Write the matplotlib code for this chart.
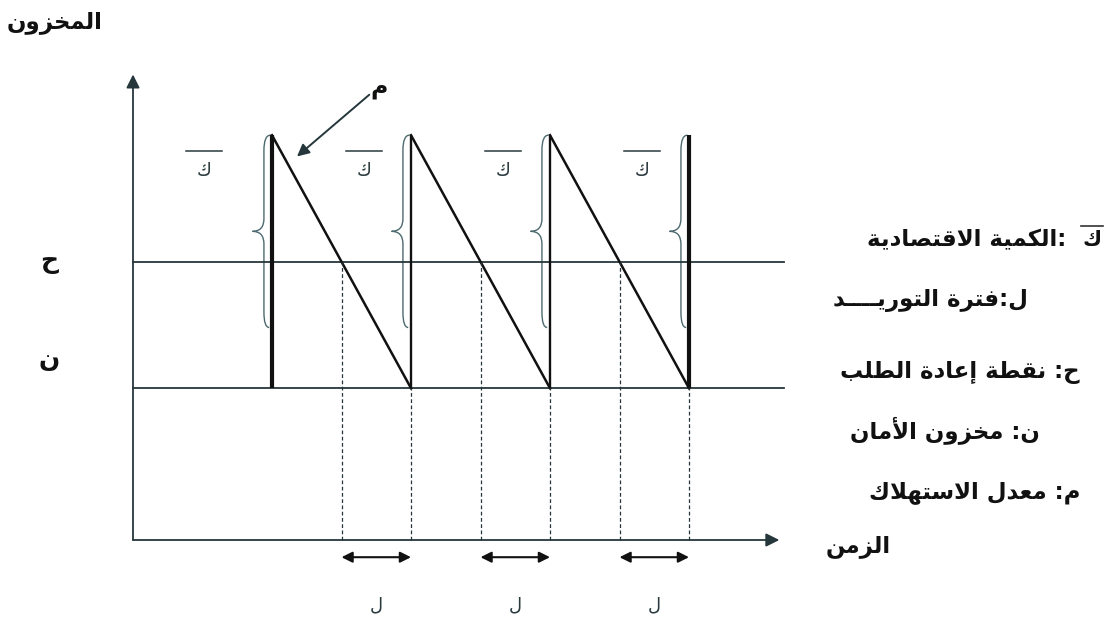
import matplotlib
matplotlib.use('Agg')
import matplotlib.pyplot as plt
from matplotlib.path import Path
from matplotlib.patches import PathPatch

# ---------------------------------------------------------------
# values (time in cycles, stock in units)
# ---------------------------------------------------------------
order_times = [1, 2, 3, 4]        # instants where the order arrives
reorder_times = [1.5, 2.5, 3.5]   # stock reaches the reorder point
safety_stock = 3.0                # ن
reorder_point = 5.5               # ح
max_stock = 8.0                   # ن + ك
brace_low = 4.2                   # lower end of the drawn braces
time_end = 4.65
stock_end = 9.2
hline_end = 4.68

side_labels = ['ح', 'ن']
side_levels = [5.5, 3.55]
lead_label = 'ل'
qty_label = 'ك'
rate_label = 'م'
title_y = 'المخزون'
title_x = 'الزمن'
legend_lines = [':الكمية الاقتصادية',
                'ل:فترة التوريــــد',
                'ح: نقطة إعادة الطلب',
                'ن: مخزون الأمان',
                'م: معدل الاستهلاك']

# ---------------------------------------------------------------
# tiny arabic shaper (presentation forms + right-to-left order)
# ---------------------------------------------------------------
FORMS = {'ء': (0xFE80, 1), 'آ': (0xFE81, 2), 'أ': (0xFE83, 2), 'ؤ': (0xFE85, 2),
         'إ': (0xFE87, 2), 'ئ': (0xFE89, 4), 'ا': (0xFE8D, 2), 'ب': (0xFE8F, 4),
         'ة': (0xFE93, 2), 'ت': (0xFE95, 4), 'ث': (0xFE99, 4), 'ج': (0xFE9D, 4),
         'ح': (0xFEA1, 4), 'خ': (0xFEA5, 4), 'د': (0xFEA9, 2), 'ذ': (0xFEAB, 2),
         'ر': (0xFEAD, 2), 'ز': (0xFEAF, 2), 'س': (0xFEB1, 4), 'ش': (0xFEB5, 4),
         'ص': (0xFEB9, 4), 'ض': (0xFEBD, 4), 'ط': (0xFEC1, 4), 'ظ': (0xFEC5, 4),
         'ع': (0xFEC9, 4), 'غ': (0xFECD, 4), 'ف': (0xFED1, 4), 'ق': (0xFED5, 4),
         'ك': (0xFED9, 4), 'ل': (0xFEDD, 4), 'م': (0xFEE1, 4), 'ن': (0xFEE5, 4),
         'ه': (0xFEE9, 4), 'و': (0xFEED, 2), 'ى': (0xFEEF, 2), 'ي': (0xFEF1, 4)}
LAM_ALEF = {'آ': 0xFEF5, 'أ': 0xFEF7, 'إ': 0xFEF9, 'ا': 0xFEFB}
TATWEEL = '\u0640'


def joins_next(c):
    return c == TATWEEL or (c in FORMS and FORMS[c][1] == 4)


def joins_prev(c):
    return c in ('LA', TATWEEL) or (c in FORMS and FORMS[c][1] >= 2)


def ar(s):
    units = []
    i = 0
    while i < len(s):
        if s[i] == 'ل' and i + 1 < len(s) and s[i + 1] in LAM_ALEF:
            units.append(('LA', s[i + 1]))
            i += 2
        else:
            units.append((s[i], None))
            i += 1
    out = []
    for k, (c, alef) in enumerate(units):
        before = k > 0 and joins_next(units[k - 1][0]) and joins_prev(c)
        after = k + 1 < len(units) and joins_next(c) and joins_prev(units[k + 1][0])
        if c == 'LA':
            out.append(chr(LAM_ALEF[alef] + int(before)))
        elif c in FORMS:
            base, n = FORMS[c]
            if n == 4:
                idx = [[0, 2], [1, 3]][int(before)][int(after)]
            elif n == 2:
                idx = int(before)
            else:
                idx = 0
            out.append(chr(base + idx))
        else:
            out.append(c)
    return ''.join(reversed(out))


# ---------------------------------------------------------------
# figure: one axes over the whole canvas, data units = time/stock
# ---------------------------------------------------------------
W, H = 1116, 622
X0, PX_T = 133, 139.0     # pixel of t=0, pixels per cycle
Y0, PX_V = 540, 50.6      # pixel of stock=0, pixels per unit

plt.rcParams['font.family'] = ['DejaVu Sans']
fig = plt.figure(figsize=(W / 100, H / 100), dpi=100)
ax = fig.add_axes([0, 0, 1, 1])
ax.set_xlim(-X0 / PX_T, (W - X0) / PX_T)
ax.set_ylim(-(H - Y0) / PX_V, Y0 / PX_V)
ax.axis('off')

line_col = '#25373b'
ink = '#111111'


def fx(px):
    return px / W


def fy(py):
    return 1 - py / H


# axes with arrows
ax.annotate('', xy=(0, stock_end), xytext=(0, 0),
            arrowprops=dict(arrowstyle='-|>', color=line_col, lw=1.3,
                            mutation_scale=20, shrinkA=0, shrinkB=0))
ax.annotate('', xy=(time_end, 0), xytext=(0, 0),
            arrowprops=dict(arrowstyle='-|>', color=line_col, lw=1.3,
                            mutation_scale=20, shrinkA=0, shrinkB=0))

# reorder point and safety stock levels
ax.plot([0, hline_end], [reorder_point, reorder_point], color=line_col, lw=1.3)
ax.plot([0, hline_end], [safety_stock, safety_stock], color=line_col, lw=1.3)

# saw-tooth: replenishments and consumption
for i, t in enumerate(order_times):
    thick = 3.0 if i in (0, len(order_times) - 1) else 1.7
    ax.plot([t, t], [safety_stock, max_stock], color=ink, lw=thick,
            solid_capstyle='butt')
    if i + 1 < len(order_times):
        ax.plot([t, order_times[i + 1]], [max_stock, safety_stock],
                color=ink, lw=1.8)

# dashed drops to the time axis
for t in reorder_times:
    ax.plot([t, t], [0, reorder_point], color=line_col, lw=0.9,
            ls=(0, (3, 2)))
for t in order_times[1:]:
    ax.plot([t, t], [0, safety_stock], color=line_col, lw=0.9,
            ls=(0, (3, 2)))

# lead-time arrows and labels
for t0, t1 in zip(reorder_times, order_times[1:]):
    ax.annotate('', xy=(t1, -0.34), xytext=(t0, -0.34),
                arrowprops=dict(arrowstyle='<|-|>', color=ink, lw=1.5,
                                mutation_scale=16, shrinkA=0, shrinkB=0))
    ax.text((t0 + t1) / 2, -1.3, ar(lead_label), ha='center', va='center',
            fontsize=13, color='#2a3a3e')

# braces and order-quantity labels
b_body, b_tip = 0.058, 0.14
for i, t in enumerate(order_times):
    xb, xt = t - b_body, t - b_tip
    mid = (max_stock + brace_low) / 2
    verts = [(t - 0.012, max_stock), (xb, max_stock), (xb, max_stock - 0.3),
             (xb, mid + 0.25),
             (xb, mid), (xt, mid),
             (xb, mid), (xb, mid - 0.25),
             (xb, brace_low + 0.3),
             (xb, brace_low), (t - 0.02, brace_low)]
    codes = [Path.MOVETO, Path.CURVE3, Path.CURVE3, Path.LINETO,
             Path.CURVE3, Path.CURVE3, Path.CURVE3, Path.CURVE3,
             Path.LINETO, Path.CURVE3, Path.CURVE3]
    ax.add_patch(PathPatch(Path(verts, codes), fill=False,
                           edgecolor='#4d6a70', lw=1.0))
    off = 0.49 if i == 0 else 0.34
    ax.text(t - off, 7.3, ar(qty_label), ha='center', va='center',
            fontsize=13, color='#2a3a3e')
    ax.plot([t - off - 0.13, t - off + 0.13], [7.68, 7.68],
            color='#2a3a3e', lw=1.1)

# consumption-rate pointer
ax.annotate('', xy=(1.18, 7.58), xytext=(1.7, 8.8),
            arrowprops=dict(arrowstyle='-|>', color=line_col, lw=1.4,
                            mutation_scale=18, shrinkA=0, shrinkB=0))
ax.text(1.77, 8.95, ar(rate_label), ha='center', va='center',
        fontsize=17, fontweight='bold', color=ink)

# labels next to the stock axis
for lab, lev in zip(side_labels, side_levels):
    ax.text(-0.6, lev, ar(lab), ha='center', va='center', fontsize=18,
            fontweight='bold', color=ink)

# axis titles
fig.text(fx(103), fy(22), ar(title_y), ha='right', va='center',
         fontsize=16.5, fontweight='bold', color=ink)
fig.text(fx(891), fy(546), ar(title_x), ha='right', va='center',
         fontsize=16.5, fontweight='bold', color=ink)

# legend block on the right
legend_right = [1066, 1028, 1080, 1040, 1080]
legend_y = [240, 300, 373, 430, 492]
for txt, rx, py in zip(legend_lines, legend_right, legend_y):
    fig.text(fx(rx), fy(py), ar(txt), ha='right', va='center',
             fontsize=16.5, fontweight='bold', color=ink)
fig.text(fx(1092), fy(240), ar(qty_label), ha='center', va='center',
         fontsize=15, fontweight='bold', color=ink)
fig.add_artist(plt.Line2D([fx(1081), fx(1103)], [fy(226), fy(226)],
                          color='#333333', lw=1.2))

fig.savefig('out.png', dpi=100)
